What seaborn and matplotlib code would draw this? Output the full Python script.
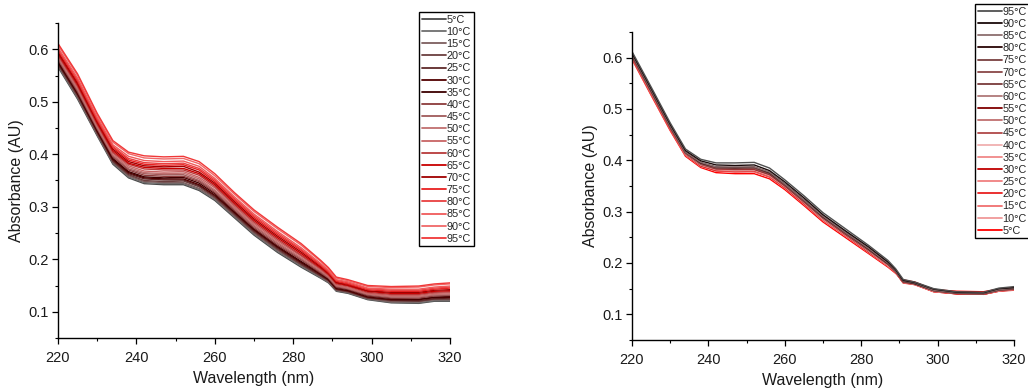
import matplotlib
matplotlib.use("Agg")
import matplotlib.pyplot as plt
from matplotlib.lines import Line2D
from matplotlib.ticker import MultipleLocator, FormatStrFormatter
import pandas as pd
import seaborn as sns

# ---------------- data ----------------
wavelength = [220, 225, 230, 234, 238, 242, 247, 252, 256, 260, 265, 270,
              276, 282, 287, 289, 291, 294, 299, 305, 312, 316, 320]
temperatures = [5, 10, 15, 20, 25, 30, 35, 40, 45, 50, 55, 60, 65, 70, 75, 80, 85, 90, 95]
temp_labels = [f"{t}°C" for t in temperatures]

left_spectra = {
    5:  [.566, .505, .435, .381, .355, .344, .342, .342, .331, .312, .279, .246, .213, .185, .164, .155, .139, .135, .123, .117, .116, .120, .120],
    10: [.568, .507, .437, .383, .357, .346, .344, .344, .333, .314, .281, .248, .215, .187, .165, .156, .140, .136, .124, .118, .117, .121, .121],
    15: [.570, .509, .438, .385, .359, .348, .346, .346, .335, .316, .283, .250, .217, .189, .167, .157, .141, .137, .125, .119, .119, .123, .123],
    20: [.571, .511, .440, .386, .361, .350, .348, .349, .338, .318, .285, .252, .219, .190, .168, .159, .142, .138, .126, .121, .120, .124, .124],
    25: [.573, .513, .442, .388, .363, .353, .351, .351, .340, .320, .287, .254, .221, .192, .169, .160, .143, .139, .127, .122, .121, .125, .126],
    30: [.575, .515, .444, .390, .365, .355, .353, .353, .342, .322, .289, .256, .223, .194, .171, .161, .144, .140, .128, .123, .123, .127, .127],
    35: [.577, .517, .446, .392, .367, .357, .355, .356, .345, .325, .291, .258, .225, .196, .173, .162, .146, .142, .130, .125, .124, .128, .129],
    40: [.580, .519, .448, .395, .370, .360, .358, .358, .348, .327, .293, .260, .227, .199, .174, .164, .147, .143, .131, .126, .126, .130, .131],
    45: [.582, .522, .450, .397, .372, .363, .361, .361, .350, .330, .296, .263, .230, .201, .176, .165, .149, .144, .133, .128, .128, .132, .132],
    50: [.584, .524, .452, .399, .375, .365, .363, .364, .353, .332, .298, .265, .232, .203, .178, .167, .150, .145, .134, .129, .129, .133, .134],
    55: [.587, .527, .455, .402, .378, .368, .366, .367, .356, .336, .301, .268, .235, .206, .180, .168, .151, .147, .135, .131, .131, .135, .136],
    60: [.589, .530, .457, .404, .381, .372, .370, .370, .360, .339, .304, .271, .238, .208, .182, .170, .153, .149, .137, .133, .133, .137, .138],
    65: [.592, .533, .460, .407, .383, .375, .373, .373, .363, .342, .307, .274, .241, .211, .184, .172, .155, .150, .139, .135, .135, .139, .140],
    70: [.595, .536, .463, .410, .386, .378, .376, .377, .366, .345, .310, .277, .244, .214, .186, .174, .156, .152, .140, .137, .137, .141, .142],
    75: [.598, .539, .465, .413, .389, .381, .379, .380, .370, .348, .313, .280, .247, .217, .188, .175, .158, .153, .142, .139, .139, .143, .145],
    80: [.600, .542, .468, .415, .392, .384, .382, .383, .373, .351, .316, .283, .250, .219, .190, .177, .160, .155, .144, .141, .141, .145, .147],
    85: [.603, .545, .471, .418, .396, .388, .386, .387, .377, .354, .319, .286, .253, .222, .192, .179, .161, .157, .145, .143, .143, .147, .149],
    90: [.608, .550, .475, .423, .401, .393, .391, .392, .382, .359, .324, .291, .258, .227, .196, .182, .164, .159, .148, .146, .147, .151, .153],
    95: [.611, .553, .478, .426, .404, .397, .395, .396, .386, .363, .327, .294, .261, .230, .198, .184, .166, .161, .150, .148, .149, .153, .155],
}

right_spectra = {
    5:  [.597, .527, .458, .408, .386, .376, .374, .374, .364, .343, .312, .280, .249, .218, .192, .180, .167, .163, .148, .145, .144, .149, .152],
    10: [.599, .529, .460, .410, .388, .379, .377, .377, .367, .346, .315, .283, .252, .220, .194, .181, .161, .158, .144, .140, .139, .145, .147],
    15: [.600, .530, .461, .411, .389, .379, .378, .378, .368, .346, .315, .283, .252, .221, .194, .182, .161, .158, .144, .140, .139, .145, .147],
    20: [.600, .530, .461, .411, .389, .380, .378, .379, .368, .347, .316, .284, .253, .221, .195, .182, .162, .158, .144, .140, .139, .145, .148],
    25: [.601, .531, .462, .411, .390, .381, .379, .379, .369, .348, .317, .284, .253, .222, .195, .182, .162, .158, .145, .140, .139, .146, .148],
    30: [.601, .531, .462, .412, .390, .381, .380, .380, .370, .348, .317, .285, .254, .222, .196, .182, .162, .159, .145, .140, .139, .146, .148],
    35: [.602, .532, .463, .412, .391, .382, .380, .381, .370, .349, .318, .285, .254, .223, .196, .183, .162, .159, .145, .141, .140, .146, .148],
    40: [.602, .532, .463, .413, .391, .382, .381, .381, .371, .349, .318, .286, .255, .223, .196, .183, .163, .159, .145, .141, .140, .146, .149],
    45: [.602, .533, .463, .413, .392, .383, .382, .382, .372, .350, .319, .287, .255, .224, .197, .183, .163, .159, .146, .141, .140, .147, .149],
    50: [.603, .533, .464, .414, .392, .383, .382, .383, .372, .350, .319, .287, .256, .224, .197, .184, .163, .159, .146, .141, .140, .147, .149],
    55: [.603, .534, .464, .414, .393, .384, .383, .383, .373, .351, .320, .288, .256, .225, .198, .184, .163, .160, .146, .141, .140, .147, .149],
    60: [.604, .534, .465, .414, .393, .385, .384, .384, .374, .352, .321, .288, .257, .225, .198, .184, .164, .160, .146, .141, .140, .147, .150],
    65: [.604, .535, .465, .415, .394, .385, .384, .385, .374, .352, .321, .289, .257, .226, .198, .184, .164, .160, .146, .141, .140, .147, .150],
    70: [.605, .535, .466, .415, .394, .386, .385, .385, .375, .353, .322, .289, .258, .226, .199, .185, .164, .160, .147, .142, .141, .148, .150],
    75: [.605, .536, .466, .416, .395, .386, .385, .386, .375, .353, .322, .290, .258, .227, .199, .185, .164, .160, .147, .142, .141, .148, .150],
    80: [.606, .536, .467, .416, .395, .387, .386, .387, .376, .354, .323, .290, .259, .227, .199, .185, .165, .160, .147, .142, .141, .148, .151],
    85: [.606, .537, .467, .416, .396, .387, .387, .387, .377, .354, .323, .291, .259, .228, .200, .185, .165, .161, .147, .142, .141, .148, .151],
    90: [.609, .540, .470, .419, .399, .391, .390, .391, .380, .358, .327, .294, .262, .231, .202, .187, .166, .162, .149, .143, .142, .150, .152],
    95: [.612, .543, .473, .422, .402, .395, .395, .396, .385, .362, .331, .298, .266, .234, .205, .189, .168, .163, .150, .144, .143, .151, .154],
}

left_colors = ["#4a4a4a", "#6e6e6e", "#7d5f5f", "#6b3f3f", "#5e2a2a", "#520000", "#3d0000",
               "#8c3c3c", "#a05a5a", "#c07070", "#c86464", "#b83a3a", "#c80000", "#a00000",
               "#e82020", "#e84040", "#f05a5a", "#f06868", "#f03838"]
# right panel colours listed from 5 °C to 95 °C
right_colors = ["#ff0000", "#f09898", "#f07070", "#e82020", "#f08080", "#c00000", "#f08888",
                "#f0b0b0", "#b04848", "#c07070", "#800000", "#b07878", "#7a3a3a", "#8a4848",
                "#7a4040", "#2a0505", "#8c6e6e", "#1a0a0a", "#505050"]


def to_long(spectra):
    rows = []
    for t in temperatures:
        for w, a in zip(wavelength, spectra[t]):
            rows.append({"Wavelength": w, "Absorbance": a, "Temp": f"{t}°C"})
    return pd.DataFrame(rows)


sns.set_theme(style="white")
plt.rcParams["font.family"] = ["Liberation Sans", "DejaVu Sans"]

fig = plt.figure(figsize=(10.28, 3.92), dpi=100)
ax1 = fig.add_axes([58 / 1028, 1 - 338 / 392, 392 / 1028, 315 / 392])
ax2 = fig.add_axes([632 / 1028, 1 - 340 / 392, 382 / 1028, 308 / 392])

panels = [
    (ax1, left_spectra, left_colors, temp_labels, (419 / 1028, 1 - 12 / 392)),
    (ax2, right_spectra, right_colors, temp_labels[::-1], (975 / 1028, 1 - 4 / 392)),
]

for ax, spectra, colors, legend_order, anchor in panels:
    df = to_long(spectra)
    palette = dict(zip(temp_labels, colors))
    sns.lineplot(data=df, x="Wavelength", y="Absorbance", hue="Temp",
                 hue_order=temp_labels, palette=palette, estimator=None,
                 errorbar=None, linewidth=1.0, legend=False, ax=ax)
    ax.set_xlim(220, 320)
    ax.set_ylim(0.05, 0.65)
    ax.xaxis.set_major_locator(MultipleLocator(20))
    ax.xaxis.set_minor_locator(MultipleLocator(10))
    ax.yaxis.set_major_locator(MultipleLocator(0.1))
    ax.yaxis.set_minor_locator(MultipleLocator(0.05))
    ax.yaxis.set_major_formatter(FormatStrFormatter("%.1f"))
    for side in ["top", "right"]:
        ax.spines[side].set_visible(False)
    for side in ["left", "bottom"]:
        ax.spines[side].set_color("black")
        ax.spines[side].set_linewidth(1.0)
    ax.tick_params(which="major", direction="out", length=4, width=0.9,
                   color="black", labelsize=10.5, labelcolor="#1a1a1a",
                   left=True, bottom=True)
    ax.tick_params(axis="x", which="major", pad=5)
    ax.tick_params(axis="y", which="major", pad=3)
    ax.tick_params(which="minor", direction="out", length=2.5, width=0.8,
                   color="black", left=True, bottom=True)
    ax.set_xlabel("Wavelength (nm)", fontsize=11.5, color="#1a1a1a", labelpad=5)
    ax.set_ylabel("Absorbance (AU)", fontsize=11.5, color="#1a1a1a", labelpad=3)

    handles = [Line2D([0], [0], color=palette[lab], lw=1.3) for lab in legend_order]
    leg = ax.legend(handles, legend_order, loc="upper left", bbox_to_anchor=anchor,
                    bbox_transform=fig.transFigure, fontsize=7.8, frameon=True,
                    fancybox=False, framealpha=1, edgecolor="black",
                    borderpad=0.25, labelspacing=0.2, handlelength=2.2,
                    handletextpad=0.1, borderaxespad=0)
    leg.get_frame().set_linewidth(1.0)

fig.savefig("out.png", dpi=100)
